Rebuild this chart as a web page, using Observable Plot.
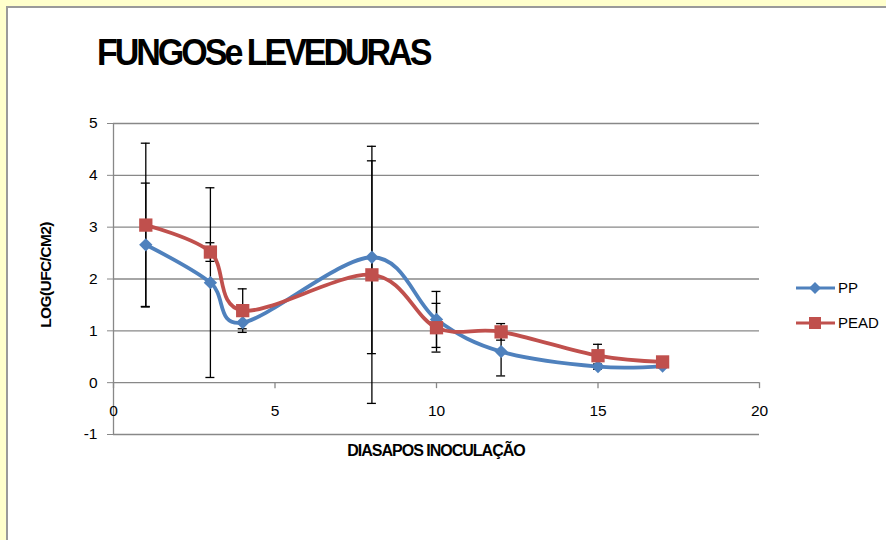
<!DOCTYPE html>
<html>
<head>
<meta charset="utf-8">
<script src="https://cdn.jsdelivr.net/npm/d3@7"></script>
<script src="https://cdn.jsdelivr.net/npm/@observablehq/plot@0.6"></script>
<style>
  html, body { margin: 0; padding: 0; }
  body { width: 886px; height: 540px; overflow: hidden; position: relative; background: #FFFFCC; font-family: Arial, "Liberation Sans", sans-serif; }
  #panel { position: absolute; left: 6px; top: 6px; width: 900px; height: 560px; background: #fff; border-left: 2px solid #9a9a9a; border-top: 2px solid #9a9a9a; }
  #chart { position: absolute; left: 0; top: 0; }
  #title { position: absolute; left: 97px; top: 34px; font-size: 37px; line-height: 37px; font-weight: bold; letter-spacing: -3.3px; color: #000; white-space: nowrap; transform: scaleX(0.92); transform-origin: 0 0; }
  #xtitle { position: absolute; left: 236px; width: 400px; text-align: center; top: 443px; font-size: 16px; line-height: 16px; font-weight: bold; letter-spacing: -1px; white-space: nowrap; }
  #ytitle { position: absolute; left: 45px; top: 275px; transform: translate(-50%, -50%) rotate(-90deg); font-size: 15.5px; line-height: 15px; font-weight: bold; letter-spacing: -0.6px; white-space: nowrap; }
  #legend { position: absolute; left: 790px; top: 272px; }
  #legend text { font-family: Arial, "Liberation Sans", sans-serif; font-size: 15px; }
</style>
</head>
<body>
<div id="panel"></div>
<div id="chart"></div>
<div id="title">FUNGOSe LEVEDURAS</div>
<div id="ytitle">LOG(UFC/CM2)</div>
<div id="xtitle">DIASAPOS INOCULAÇÃO</div>
<div id="legend"></div>
<script>
// ---- data ----
const dias = [1, 3, 4, 8, 10, 12, 15, 17];
const ppValues = [2.66, 1.93, 1.16, 2.42, 1.22, 0.60, 0.31, 0.32];
const ppErrors = [1.19, 1.83, 0.12, 1.86, 0.54, 0.47, 0.05, 0.03];
const peadValues = [3.04, 2.52, 1.39, 2.08, 1.06, 0.98, 0.52, 0.40];
const peadErrors = [1.58, 0.18, 0.42, 2.48, 0.47, 0.16, 0.22, 0.03];
const seriesNames = ["PP", "PEAD"];
const xTicks = [0, 5, 10, 15, 20];
const yTicks = [-1, 0, 1, 2, 3, 4, 5];

const BLUE = "#4F81BD";
const RED = "#C0504D";
const GRID = "#888888";

const ppRows = dias.map((d, i) => ({dia: d, v: ppValues[i], e: ppErrors[i]}));
const peadRows = dias.map((d, i) => ({dia: d, v: peadValues[i], e: peadErrors[i]}));
const errRows = [...ppRows, ...peadRows].map(r => ({dia: r.dia, lo: r.v - r.e, hi: r.v + r.e}));
const capRows = errRows.flatMap(r => [{dia: r.dia, v: r.lo}, {dia: r.dia, v: r.hi}]);

const chart = Plot.plot({
  width: 886,
  height: 540,
  marginLeft: 113,
  marginRight: 127,
  marginTop: 123,
  marginBottom: 106,
  style: {background: "transparent", fontFamily: "Arial, 'Liberation Sans', sans-serif", fontSize: "15px", overflow: "visible"},
  x: {domain: [0, 20], axis: null},
  y: {domain: [-1, 5]},
  marks: [
    Plot.ruleY(yTicks, {stroke: GRID, strokeWidth: 1.3}),
    Plot.ruleX([0], {stroke: GRID, strokeWidth: 1.3}),
    Plot.axisY({ticks: yTicks, tickFormat: d => String(d), tickSize: 6, tickPadding: 10, fontSize: 15.5, stroke: GRID, fill: "#000", label: null}),
    Plot.ruleX(xTicks, {x: d => d, y1: 0, y2: 0, insetBottom: -6, stroke: GRID, strokeWidth: 1.3}),
    Plot.text(xTicks, {x: d => d, y: 0, text: d => String(d), dy: 28, fontSize: 15.5, fill: "#000"}),
    Plot.line(ppRows, {x: "dia", y: "v", stroke: BLUE, strokeWidth: 3.8, curve: "cardinal"}),
    Plot.line(peadRows, {x: "dia", y: "v", stroke: RED, strokeWidth: 3.8, curve: "cardinal"}),
    Plot.ruleX(errRows, {x: "dia", y1: "lo", y2: "hi", stroke: "#000", strokeWidth: 1.3}),
    Plot.ruleY(capRows, {y: "v", x1: "dia", x2: "dia", insetLeft: -4.5, insetRight: -4.5, stroke: "#000", strokeWidth: 1.3}),
    Plot.dot(ppRows, {x: "dia", y: "v", symbol: "diamond2", r: 6, fill: BLUE, stroke: null}),
    Plot.dot(peadRows, {x: "dia", y: "v", symbol: "square", r: 7.5, fill: RED, stroke: null})
  ]
});
document.getElementById("chart").appendChild(chart);

// ---- legend ----
const ns = "http://www.w3.org/2000/svg";
const lg = document.createElementNS(ns, "svg");
lg.setAttribute("width", 96);
lg.setAttribute("height", 70);
const entries = [{name: seriesNames[0], color: BLUE, sym: "diamond"}, {name: seriesNames[1], color: RED, sym: "square"}];
entries.forEach((e, i) => {
  const y = 16 + i * 35;
  const line = document.createElementNS(ns, "line");
  line.setAttribute("x1", 6); line.setAttribute("x2", 45);
  line.setAttribute("y1", y); line.setAttribute("y2", y);
  line.setAttribute("stroke", e.color); line.setAttribute("stroke-width", 3);
  lg.appendChild(line);
  const m = document.createElementNS(ns, "path");
  const cx = 25;
  if (e.sym === "diamond") m.setAttribute("d", `M${cx},${y-6}L${cx+6},${y}L${cx},${y+6}L${cx-6},${y}Z`);
  else m.setAttribute("d", `M${cx-6},${y-6}h12v12h-12Z`);
  m.setAttribute("fill", e.color);
  lg.appendChild(m);
  const t = document.createElementNS(ns, "text");
  t.setAttribute("x", 48); t.setAttribute("y", y); t.setAttribute("dy", "0.35em");
  t.textContent = e.name;
  lg.appendChild(t);
});
document.getElementById("legend").appendChild(lg);
</script>
</body>
</html>
